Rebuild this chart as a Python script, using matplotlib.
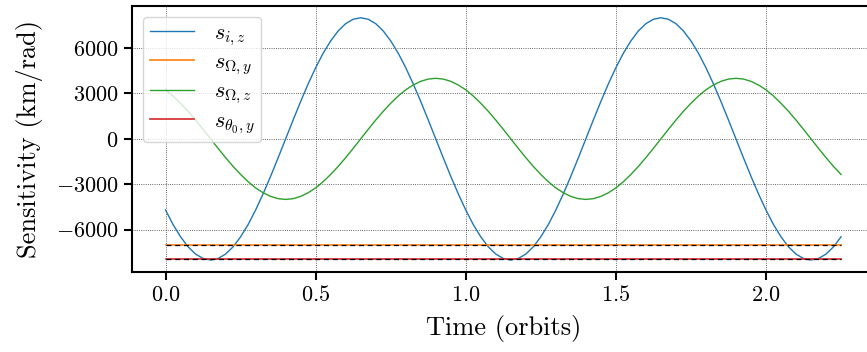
import numpy as np
import matplotlib
matplotlib.use("Agg")
import matplotlib.pyplot as plt

plt.rcParams['font.family'] = 'serif'
plt.rcParams['font.serif'] = ['cmr10']
plt.rcParams['mathtext.fontset'] = 'cm'
plt.rcParams['axes.formatter.use_mathtext'] = True

# time samples (orbits), every 0.025 orbit
t = np.linspace(0.0, 2.25, 91)

# s_{i,z} (km/rad), one orbit = 40 samples
s_iz_orbit = [-4700, -5660, -6470, -7130, -7610, -7900, -8000, -7900, -7610, -7130,
              -6470, -5660, -4700, -3630, -2470, -1250, 0, 1250, 2470, 3630,
              4700, 5660, 6470, 7130, 7610, 7900, 8000, 7900, 7610, 7130,
              6470, 5660, 4700, 3630, 2470, 1250, 0, -1250, -2470, -3630]
s_iz_tail = [-4700, -5660, -6470, -7130, -7610, -7900, -8000, -7900, -7610, -7130, -6470]
s_iz = s_iz_orbit + s_iz_orbit + s_iz_tail

# s_{Omega,z}
s_Oz_orbit = [3240, 2830, 2350, 1820, 1240, 630, 0, -630, -1240, -1820,
              -2350, -2830, -3240, -3560, -3800, -3950, -4000, -3950, -3800, -3560,
              -3240, -2830, -2350, -1820, -1240, -630, 0, 630, 1240, 1820,
              2350, 2830, 3240, 3560, 3800, 3950, 4000, 3950, 3800, 3560]
s_Oz_tail = [3240, 2830, 2350, 1820, 1240, 630, 0, -630, -1240, -1820, -2350]
s_Oz = s_Oz_orbit + s_Oz_orbit + s_Oz_tail

# constant sensitivities
s_Oy = -7000
s_t0y = -7950

fig = plt.figure(figsize=(8.67, 3.52), dpi=100)
ax = fig.add_axes([0.152, 0.227, 0.857, 0.757])

ax.plot(t, s_iz, color='tab:blue', lw=1.0, label=r'$s_{i,z}$')
ax.plot(t, np.full_like(t, s_Oy), color='tab:orange', lw=1.2, label=r'$s_{\Omega,y}$')
ax.plot(t, s_Oz, color='tab:green', lw=1.0, label=r'$s_{\Omega,z}$')
ax.plot(t, np.full_like(t, s_t0y), color='tab:red', lw=1.2, label=r'$s_{\theta_0,y}$')
ax.plot(t, np.full_like(t, s_Oy), 'k--', lw=0.9, dashes=(4, 3))
ax.plot(t, np.full_like(t, s_t0y), 'k--', lw=0.9, dashes=(4, 3))

ax.set_yticks([-6000, -3000, 0, 3000, 6000])
ax.set_xticks([0.0, 0.5, 1.0, 1.5, 2.0])
ax.set_xlabel('Time (orbits)', fontsize=19, labelpad=7)
ax.set_ylabel('Sensitivity (km/rad)', fontsize=19, labelpad=9)
ax.tick_params(labelsize=16, width=1.5, length=6)
for sp in ax.spines.values():
    sp.set_linewidth(1.5)
ax.grid(True, color='k', linestyle=':', linewidth=0.6, alpha=0.8)
ax.legend(loc='upper left', fontsize=16, labelspacing=0.22, borderpad=0.3,
          handletextpad=0.9)

fig.savefig('out.png', dpi=100)
